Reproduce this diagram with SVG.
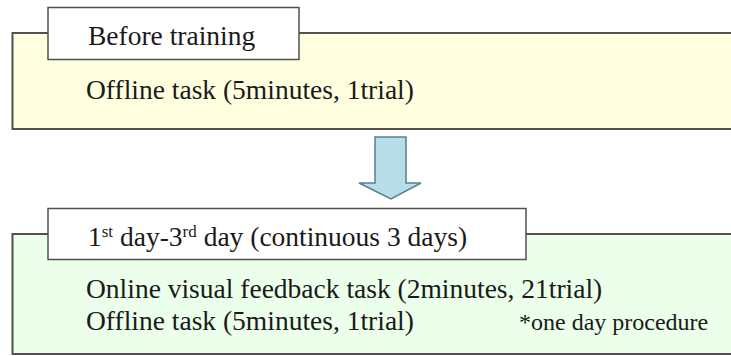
<svg xmlns="http://www.w3.org/2000/svg" width="731" height="356" viewBox="0 0 731 356">
<style>
.box{stroke:#505050;stroke-width:2}
.lbl{fill:#ffffff;stroke:#505050;stroke-width:1.5}
.t{font-size:27.5px}
.s{font-size:24px}
</style>
<rect width="731" height="356" fill="#ffffff"/>
<g id="before" font-family="Liberation Serif, Tinos, DejaVu Serif, serif" fill="#1a1a1a">
<rect class="box" x="12.5" y="33" width="730" height="96" fill="#ffffe0"/>
<rect class="lbl" x="48" y="7.5" width="251" height="52"/>
<text class="t" x="88" y="45">Before training</text>
<text class="t" x="86" y="99">Offline task (5minutes, 1trial)</text>
</g>
<g id="connectors">
<polygon points="375,137 406,137 406,183 421,183 391,199 359,183 375,183" fill="#b7dde8" stroke="#5b7f8c" stroke-width="1.5"/>
</g>
<g id="training" font-family="Liberation Serif, Tinos, DejaVu Serif, serif" fill="#1a1a1a">
<rect class="box" x="12.5" y="234" width="730" height="120" fill="#ebffeb"/>
<rect class="lbl" x="48" y="208.5" width="478" height="51"/>
<text class="t" x="88" y="246">1<tspan font-size="17" dy="-9">st</tspan><tspan dy="9"> day-3</tspan><tspan font-size="17" dy="-9">rd</tspan><tspan dy="9"> day (continuous 3 days)</tspan></text>
<text class="t" x="86" y="298">Online visual feedback task (2minutes, 21trial)</text>
<text class="t" x="86" y="330">Offline task (5minutes, 1trial)</text>
<text class="s" x="519" y="330">*one day procedure</text>
</g>
</svg>
